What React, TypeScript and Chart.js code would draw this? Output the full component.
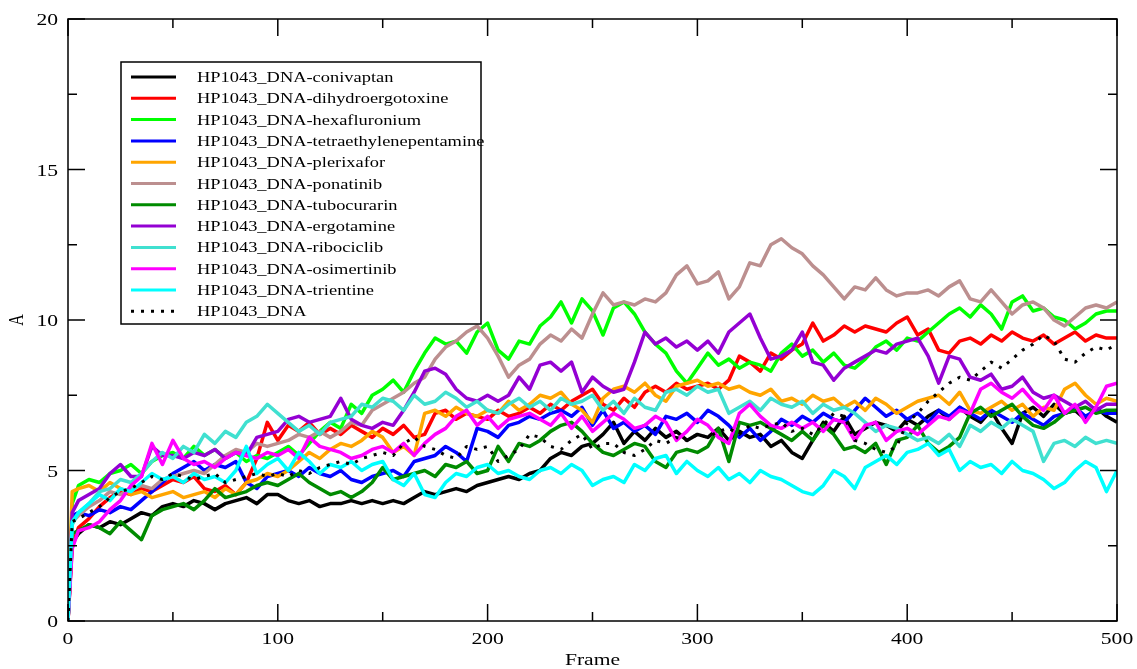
import React, { useEffect, useRef } from "react";
import { Chart, registerables } from "chart.js";

Chart.register(...registerables);

// ---------- data ----------
const frames = [
  0, 2, 5, 10, 15, 20, 25, 30, 35, 40, 45,
  50, 55, 60, 65, 70, 75, 80, 85, 90, 95,
  100, 105, 110, 115, 120, 125, 130, 135, 140, 145,
  150, 155, 160, 165, 170, 175, 180, 185, 190, 195,
  200, 205, 210, 215, 220, 225, 230, 235, 240, 245,
  250, 255, 260, 265, 270, 275, 280, 285, 290, 295,
  300, 305, 310, 315, 320, 325, 330, 335, 340, 345,
  350, 355, 360, 365, 370, 375, 380, 385, 390, 395,
  400, 405, 410, 415, 420, 425, 430, 435, 440, 445,
  450, 455, 460, 465, 470, 475, 480, 485, 490, 495,
  500,
];

const conivaptan = [
  0, 2.6, 2.9, 3.2, 3.1, 3.3, 3.2, 3.4, 3.6, 3.5, 3.8,
  3.9, 3.8, 4.0, 3.9, 3.7, 3.9, 4.0, 4.1, 3.9, 4.2,
  4.2, 4.0, 3.9, 4.0, 3.8, 3.9, 3.9, 4.0, 3.9, 4.0,
  3.9, 4.0, 3.9, 4.1, 4.3, 4.2, 4.3, 4.4, 4.3, 4.5,
  4.6, 4.7, 4.8, 4.7, 4.9, 5.0, 5.4, 5.6, 5.5, 5.8,
  5.9, 6.2, 6.6, 5.9, 6.3, 6.0, 6.4, 6.1, 6.3, 6.0,
  6.2, 6.1, 6.4, 6.0, 6.3, 6.1, 6.2, 5.8, 6.0, 5.6,
  5.4, 6.0, 6.6, 6.3, 6.8, 6.2, 6.4, 6.6, 6.5, 6.3,
  6.7, 6.5, 6.8, 7.0, 6.7, 7.1, 6.8, 6.6, 7.0, 6.4,
  5.9, 6.9, 7.1, 6.8, 7.2, 6.9, 7.0, 6.7, 7.1, 6.8,
  6.6,
];

const dihydroergotoxine = [
  0, 2.5, 3.1, 3.4, 3.8, 4.1, 4.3, 4.2, 4.4, 4.3, 4.5,
  4.7, 4.6, 4.8, 4.4, 4.3, 4.5, 4.2, 4.6, 5.4, 6.6,
  6.0, 6.5, 6.3, 6.6, 6.2, 6.4, 6.2, 6.5, 6.3, 6.1,
  6.4, 6.2, 6.5, 6.1, 6.2, 6.9, 7.0, 6.7, 6.9, 6.8,
  6.7, 7.0, 6.8, 6.9, 7.1, 6.9, 7.2, 7.0, 7.3, 7.5,
  7.7, 7.2, 7.0, 7.4, 7.1, 7.6, 7.8, 7.6, 7.9, 7.7,
  7.8, 7.9, 7.7, 8.0, 8.8, 8.6, 8.3, 8.9, 8.7, 9.0,
  9.2, 9.9, 9.3, 9.5, 9.8, 9.6, 9.8, 9.7, 9.6, 9.9,
  10.1, 9.5, 9.7, 9.0, 8.9, 9.3, 9.4, 9.2, 9.5, 9.3,
  9.6, 9.4, 9.3, 9.5, 9.2, 9.4, 9.6, 9.3, 9.5, 9.4,
  9.4,
];

const hexafluronium = [
  0, 3.9, 4.5, 4.7, 4.6, 4.9, 5.0, 5.2, 4.9, 5.3, 5.5,
  5.6, 5.4, 5.8, 5.5, 5.7, 5.4, 5.6, 5.3, 5.5, 5.4,
  5.6, 5.8, 5.5, 5.9, 6.3, 6.6, 6.4, 7.2, 6.9, 7.5,
  7.7, 8.0, 7.6, 8.3, 8.9, 9.4, 9.2, 9.3, 8.9, 9.6,
  9.9, 9.0, 8.7, 9.3, 9.2, 9.8, 10.1, 10.6, 9.9, 10.7,
  10.3, 9.5, 10.4, 10.6, 10.2, 9.6, 9.2, 8.9, 8.3, 7.9,
  8.4, 8.9, 8.5, 8.7, 8.4, 8.6, 8.5, 8.3, 8.9, 9.2,
  8.8, 9.0, 8.6, 8.9, 8.5, 8.4, 8.7, 9.1, 9.3, 9.0,
  9.4, 9.3, 9.6, 9.9, 10.2, 10.4, 10.1, 10.5, 10.2, 9.7,
  10.6, 10.8, 10.3, 10.4, 10.1, 10.0, 9.7, 9.9, 10.2, 10.3,
  10.3,
];

const tetraethylenepentamine = [
  0, 3.5, 3.6, 3.5, 3.7, 3.6, 3.8, 3.7, 4.0, 4.3, 4.6,
  4.9, 5.1, 5.3, 5.0, 5.2, 5.1, 5.3, 4.6, 4.4, 4.8,
  4.9, 5.0, 4.8, 5.1, 4.9, 4.8, 5.0, 4.7, 4.6, 4.8,
  4.9, 5.0, 4.8, 5.3, 5.4, 5.5, 5.8, 5.6, 5.3, 6.4,
  6.3, 6.1, 6.5, 6.6, 6.8, 6.7, 6.9, 7.0, 6.8, 7.1,
  6.5, 7.0, 6.4, 6.6, 6.3, 6.5, 6.2, 6.8, 6.7, 6.9,
  6.6, 7.0, 6.8, 6.5, 6.1, 6.4, 6.0, 6.3, 6.7, 6.5,
  6.8, 6.6, 6.9, 6.7, 6.6, 7.0, 7.4, 7.1, 6.8, 7.0,
  6.7, 6.9, 6.6, 7.0, 6.8, 7.1, 6.9, 6.7, 7.0, 6.8,
  6.6, 6.9, 6.7, 6.5, 6.8, 6.9, 7.1, 6.8, 7.0, 6.9,
  6.9,
];

const plerixafor = [
  0, 4.3, 4.4, 4.5, 4.3, 4.6, 4.4, 4.2, 4.3, 4.1, 4.2,
  4.3, 4.1, 4.2, 4.3, 4.1, 4.4, 4.2, 4.6, 4.7, 4.9,
  4.8, 5.0, 5.3, 5.6, 5.4, 5.7, 5.9, 5.8, 6.0, 6.3,
  6.1, 5.6, 5.8, 5.5, 6.9, 7.0, 6.8, 7.1, 6.9, 6.8,
  7.0, 6.9, 7.3, 7.0, 7.2, 7.5, 7.4, 7.6, 7.2, 7.0,
  6.6, 7.4, 7.7, 7.8, 7.6, 7.9, 7.5, 7.3, 7.8, 7.9,
  8.0, 7.8, 7.9, 7.7, 7.8, 7.6, 7.5, 7.7, 7.3, 7.4,
  7.2, 7.5, 7.3, 7.4, 7.1, 7.3, 7.0, 7.4, 7.2, 6.9,
  7.1, 7.3, 7.4, 7.5, 7.2, 7.6, 7.0, 6.9, 7.1, 7.3,
  7.0, 7.2, 6.8, 7.1, 7.0, 7.7, 7.9, 7.5, 7.2, 7.4,
  7.3,
];

const ponatinib = [
  0, 3.3, 3.5, 3.8, 4.0, 4.3, 4.2, 4.4, 4.5, 4.4, 4.7,
  4.8, 4.9, 5.0, 4.9, 5.2, 5.5, 5.7, 5.6, 5.9, 5.8,
  5.9, 6.0, 6.2, 6.1, 6.3, 6.1, 6.3, 6.6, 6.5, 7.0,
  7.2, 7.4, 7.6, 7.9, 8.1, 8.7, 9.1, 9.3, 9.6, 9.8,
  9.4, 8.8, 8.1, 8.5, 8.7, 9.2, 9.5, 9.3, 9.7, 9.4,
  10.2, 10.9, 10.5, 10.6, 10.5, 10.7, 10.6, 10.9, 11.5, 11.8,
  11.2, 11.3, 11.6, 10.7, 11.1, 11.9, 11.8, 12.5, 12.7, 12.4,
  12.2, 11.8, 11.5, 11.1, 10.7, 11.1, 11.0, 11.4, 11.0, 10.8,
  10.9, 10.9, 11.0, 10.8, 11.1, 11.3, 10.7, 10.6, 11.0, 10.6,
  10.2, 10.5, 10.6, 10.4, 10.0, 9.8, 10.1, 10.4, 10.5, 10.4,
  10.6,
];

const tubocurarin = [
  0, 2.9, 3.0, 3.2, 3.1, 2.9, 3.3, 3.0, 2.7, 3.5, 3.7,
  3.8, 3.9, 3.7, 4.0, 4.4, 4.1, 4.2, 4.3, 4.5, 4.6,
  4.5, 4.7, 4.9, 4.6, 4.4, 4.2, 4.3, 4.1, 4.3, 4.6,
  5.1, 4.7, 4.8, 4.9, 5.0, 4.8, 5.2, 5.1, 5.3, 4.9,
  5.0, 5.8, 5.3, 5.9, 5.8, 6.0, 6.3, 6.5, 6.6, 6.3,
  5.9, 5.6, 5.5, 5.7, 5.9, 5.8, 5.3, 5.1, 5.6, 5.7,
  5.6, 5.8, 6.4, 5.3, 6.6, 6.5, 6.6, 6.4, 6.2, 6.0,
  6.3, 6.0, 6.5, 6.2, 5.7, 5.8, 5.6, 5.9, 5.2, 6.0,
  6.1, 6.5, 5.9, 5.6, 5.8, 6.1, 6.9, 7.1, 6.8, 7.0,
  7.2, 6.8, 6.5, 6.4, 6.6, 6.9, 7.0, 7.1, 6.9, 7.0,
  7.0,
];

const ergotamine = [
  0, 3.6, 4.0, 4.2, 4.4, 4.9, 5.2, 4.8, 4.8, 5.8, 5.5,
  5.5, 5.4, 5.6, 5.5, 5.7, 5.4, 5.6, 5.5, 6.1, 6.2,
  6.3, 6.7, 6.8, 6.6, 6.7, 6.8, 7.4, 6.7, 6.5, 6.4,
  6.6, 6.5, 7.0, 7.6, 8.3, 8.4, 8.2, 7.7, 7.4, 7.3,
  7.5, 7.3, 7.5, 8.1, 7.7, 8.5, 8.6, 8.3, 8.6, 7.6,
  8.1, 7.8, 7.6, 7.7, 8.6, 9.6, 9.2, 9.4, 9.1, 9.3,
  9.0, 9.3, 8.9, 9.6, 9.9, 10.2, 9.4, 8.7, 8.8, 9.0,
  9.6, 8.6, 8.5, 8.0, 8.4, 8.6, 8.8, 9.0, 8.9, 9.2,
  9.3, 9.4, 8.8, 7.9, 8.8, 8.7, 8.1, 8.0, 8.2, 7.7,
  7.8, 8.1, 7.6, 7.4, 7.5, 7.3, 7.1, 7.3, 7.0, 7.2,
  7.2,
];

const ribociclib = [
  0, 3.2, 3.6, 3.9, 4.3, 4.4, 4.7, 4.6, 4.9, 5.3, 5.6,
  5.4, 5.8, 5.6, 6.2, 5.9, 6.3, 6.1, 6.6, 6.8, 7.2,
  6.9, 6.6, 6.3, 6.5, 6.2, 6.6, 6.7, 6.8, 7.2, 7.1,
  7.4, 7.3, 7.0, 7.5, 7.2, 7.3, 7.6, 7.4, 7.1, 7.3,
  7.0, 6.9, 7.2, 7.4, 7.1, 7.3, 7.0, 7.4, 7.2, 7.3,
  7.5, 7.0, 7.3, 6.9, 7.4, 7.1, 7.0, 7.6, 7.7, 7.5,
  7.8, 7.6, 7.7, 6.9, 7.1, 7.3, 7.0, 7.4, 7.2, 7.1,
  7.3, 6.9, 7.2, 7.0, 7.1, 6.9, 6.6, 6.3, 6.5, 6.4,
  6.2, 6.0, 6.1, 5.9, 6.2, 5.8, 6.5, 6.3, 6.6, 6.4,
  6.7, 6.5, 6.3, 5.3, 5.9, 6.0, 5.8, 6.1, 5.9, 6.0,
  5.9,
];

const osimertinib = [
  0, 2.4, 3.0, 3.1, 3.3, 3.7, 4.0, 4.5, 4.8, 5.9, 5.2,
  6.0, 5.4, 5.2, 5.3, 5.1, 5.4, 5.6, 5.5, 5.4, 5.6,
  5.5, 5.7, 5.4, 6.1, 5.8, 5.7, 5.6, 5.4, 5.5, 5.7,
  5.8, 5.6, 5.9, 5.5, 5.9, 6.2, 6.4, 6.8, 7.0, 6.5,
  6.8, 6.4, 6.7, 6.8, 6.9, 6.7, 6.5, 6.9, 6.4, 6.8,
  6.3, 6.6, 6.9, 6.7, 6.4, 6.5, 6.8, 6.6, 6.0, 6.3,
  6.7, 6.5, 6.1, 5.9, 6.9, 7.2, 6.8, 6.5, 6.4, 6.6,
  6.4, 6.6, 6.3, 6.7, 6.6, 6.0, 6.5, 6.6, 6.0, 6.3,
  6.4, 6.2, 6.5, 6.8, 6.7, 7.0, 6.9, 7.7, 7.9, 7.6,
  7.4, 7.7, 7.3, 7.0, 7.5, 6.9, 7.2, 6.6, 7.1, 7.8,
  7.9,
];

const trientine = [
  0, 3.3, 3.6, 3.9, 4.2, 4.0, 4.4, 4.3, 4.6, 4.9, 4.7,
  4.8, 4.6, 4.9, 4.7, 4.8, 4.6, 5.0, 5.8, 4.9, 5.2,
  5.4, 5.0, 5.6, 5.3, 4.9, 5.2, 5.1, 5.3, 5.0, 5.2,
  5.3, 4.7, 4.5, 4.9, 4.2, 4.1, 4.6, 4.9, 4.8, 5.1,
  5.2, 4.9, 5.0, 4.8, 4.7, 5.0, 5.1, 4.9, 5.2, 5.0,
  4.5, 4.7, 4.8, 4.6, 5.2, 5.0, 5.4, 5.5, 4.9, 5.3,
  5.0, 4.8, 5.1, 4.7, 4.9, 4.6, 5.0, 4.8, 4.7, 4.5,
  4.3, 4.2, 4.5, 5.0, 4.8, 4.4, 5.1, 5.3, 5.5, 5.2,
  5.6, 5.7, 5.9, 5.5, 5.7, 5.0, 5.3, 5.1, 5.2, 4.9,
  5.3, 5.0, 4.9, 4.7, 4.4, 4.6, 5.0, 5.3, 5.1, 4.3,
  5.0,
];

const dnaOnly = [
  0, 3.3, 3.4, 3.6, 3.8, 4.1, 4.3, 4.4, 4.6, 4.8, 4.7,
  4.9, 4.8, 4.7, 4.8, 4.9, 4.6, 4.7, 4.8, 4.9, 4.8,
  4.9, 4.8, 5.0, 4.9, 5.1, 5.2, 5.3, 5.2, 5.4, 5.5,
  5.6, 5.5, 5.9, 6.1, 5.8, 5.7, 5.5, 5.4, 5.8, 5.7,
  5.8, 5.3, 5.5, 5.7, 6.2, 6.1, 5.8, 5.7, 6.0, 6.2,
  5.7, 5.9, 5.9, 5.6, 5.5, 5.7, 6.0, 5.9, 6.1, 6.0,
  6.2, 6.1, 6.3, 6.4, 6.2, 6.5, 6.4, 6.5, 6.6, 6.3,
  6.4, 6.2, 6.5, 6.9, 6.8, 6.0, 5.9, 5.7, 5.6, 5.8,
  6.6, 6.9, 7.3, 7.6, 7.9, 8.1, 8.0, 8.3, 8.6, 8.4,
  8.7, 9.0, 9.2, 9.5, 9.3, 8.7, 8.6, 8.9, 9.1, 9.0,
  9.2,
];

const seriesNames = [
  "HP1043_DNA-conivaptan",
  "HP1043_DNA-dihydroergotoxine",
  "HP1043_DNA-hexafluronium",
  "HP1043_DNA-tetraethylenepentamine",
  "HP1043_DNA-plerixafor",
  "HP1043_DNA-ponatinib",
  "HP1043_DNA-tubocurarin",
  "HP1043_DNA-ergotamine",
  "HP1043_DNA-ribociclib",
  "HP1043_DNA-osimertinib",
  "HP1043_DNA-trientine",
  "HP1043_DNA",
];

const seriesValues = [
  conivaptan,
  dihydroergotoxine,
  hexafluronium,
  tetraethylenepentamine,
  plerixafor,
  ponatinib,
  tubocurarin,
  ergotamine,
  ribociclib,
  osimertinib,
  trientine,
  dnaOnly,
];

const seriesColors = [
  "#000000",
  "#ff0000",
  "#00ff00",
  "#0000ff",
  "#ffa500",
  "#bc8f8f",
  "#008b00",
  "#9400d3",
  "#40e0d0",
  "#ff00ff",
  "#00ffff",
  "#000000",
];

const xMajorTicks = [0, 100, 200, 300, 400, 500];
const xMinorTicks = [50, 150, 250, 350, 450];
const yMajorTicks = [0, 5, 10, 15, 20];
const yMinorTicks = [2.5, 7.5, 12.5, 17.5];
const xTitle = "Frame";
const yTitle = "A";

// ---------- drawing helpers ----------
const FONT = '"Liberation Serif", "Times New Roman", serif';
const STRETCH = 1.27;
const DOT_DASH = [3, 7];

function stretchedText(ctx: CanvasRenderingContext2D, text: string, x: number, y: number) {
  ctx.save();
  ctx.translate(x, y);
  ctx.scale(STRETCH, 1);
  ctx.fillText(text, 0, 0);
  ctx.restore();
}

const gracePlugin = {
  id: "graceFrame",
  afterDatasetsDraw(chart: any) {
    const ctx: CanvasRenderingContext2D = chart.ctx;
    const { left, right, top, bottom } = chart.chartArea;
    const xs = chart.scales.x;
    const ys = chart.scales.y;
    ctx.save();
    ctx.strokeStyle = "#000";
    ctx.fillStyle = "#000";
    ctx.lineWidth = 1.5;
    ctx.strokeRect(left, top, right - left, bottom - top);

    ctx.beginPath();
    const MAJ = 17;
    const MIN = 9;
    xMajorTicks.forEach((v) => {
      const px = xs.getPixelForValue(v);
      ctx.moveTo(px, bottom); ctx.lineTo(px, bottom - MAJ);
      ctx.moveTo(px, top); ctx.lineTo(px, top + MAJ);
    });
    xMinorTicks.forEach((v) => {
      const px = xs.getPixelForValue(v);
      ctx.moveTo(px, bottom); ctx.lineTo(px, bottom - MIN);
      ctx.moveTo(px, top); ctx.lineTo(px, top + MIN);
    });
    yMajorTicks.forEach((v) => {
      const py = ys.getPixelForValue(v);
      ctx.moveTo(left, py); ctx.lineTo(left + MAJ, py);
      ctx.moveTo(right, py); ctx.lineTo(right - MAJ, py);
    });
    yMinorTicks.forEach((v) => {
      const py = ys.getPixelForValue(v);
      ctx.moveTo(left, py); ctx.lineTo(left + MIN, py);
      ctx.moveTo(right, py); ctx.lineTo(right - MIN, py);
    });
    ctx.stroke();

    // tick labels
    ctx.font = `17px ${FONT}`;
    ctx.textBaseline = "alphabetic";
    ctx.textAlign = "center";
    xMajorTicks.forEach((v) => {
      stretchedText(ctx, String(v), xs.getPixelForValue(v), bottom + 23);
    });
    ctx.textAlign = "right";
    yMajorTicks.forEach((v) => {
      stretchedText(ctx, String(v), left - 10, ys.getPixelForValue(v) + 6);
    });

    // axis titles
    ctx.textAlign = "center";
    ctx.font = `17px ${FONT}`;
    stretchedText(ctx, xTitle, (left + right) / 2, bottom + 44);
    ctx.save();
    ctx.translate(18, (top + bottom) / 2);
    ctx.scale(STRETCH, 1);
    ctx.rotate(-Math.PI / 2);
    ctx.textBaseline = "middle";
    ctx.font = `16px ${FONT}`;
    ctx.fillText(yTitle, 0, 0);
    ctx.restore();

    // legend
    const bx = 121, by = 62, bw = 360, bh = 262;
    ctx.fillStyle = "#fff";
    ctx.fillRect(bx, by, bw, bh);
    ctx.lineWidth = 1.5;
    ctx.strokeStyle = "#000";
    ctx.strokeRect(bx, by, bw, bh);
    chart.data.datasets.forEach((ds: any, i: number) => {
      const y = 77 + i * 21.3;
      ctx.save();
      ctx.strokeStyle = ds.borderColor;
      ctx.lineWidth = 3;
      ctx.setLineDash(ds.borderDash || []);
      ctx.beginPath();
      ctx.moveTo(131, y);
      ctx.lineTo(176, y);
      ctx.stroke();
      ctx.restore();
      ctx.fillStyle = "#000";
      ctx.font = `14.5px ${FONT}`;
      ctx.textAlign = "left";
      ctx.textBaseline = "alphabetic";
      stretchedText(ctx, ds.label, 197, y + 5);
    });
    ctx.restore();
  },
};

export default function App() {
  const canvasRef = useRef<HTMLCanvasElement | null>(null);

  useEffect(() => {
    if (!canvasRef.current) return;
    const n = seriesValues.length;
    const datasets = seriesValues.map((vals, i) => ({
      label: seriesNames[i],
      data: vals.map((v, k) => ({ x: frames[k], y: v })),
      borderColor: seriesColors[i],
      backgroundColor: seriesColors[i],
      borderWidth: i === n - 1 ? 3 : 3.5,
      borderDash: i === n - 1 ? DOT_DASH : undefined,
      borderCapStyle: "butt",
      borderJoinStyle: "round",
      pointRadius: 0,
      tension: 0,
      fill: false,
      order: n - i,
    }));
    const chart = new Chart(canvasRef.current, {
      type: "line",
      data: { datasets },
      options: {
        animation: false,
        responsive: false,
        devicePixelRatio: 1,
        parsing: false as any,
        layout: { padding: { top: 19, right: 20, left: 0, bottom: 0 } },
        plugins: { legend: { display: false }, tooltip: { enabled: false } },
        scales: {
          x: {
            type: "linear",
            min: 0,
            max: 500,
            grid: { display: false, drawTicks: false },
            border: { display: false },
            ticks: { display: false },
            afterFit: (s: any) => { s.height = 48; },
          },
          y: {
            type: "linear",
            min: 0,
            max: 20,
            grid: { display: false, drawTicks: false },
            border: { display: false },
            ticks: { display: false },
            afterFit: (s: any) => { s.width = 68; },
          },
        },
      } as any,
      plugins: [gracePlugin],
    });
    return () => chart.destroy();
  }, []);

  return (
    <div style={{ position: "fixed", left: 0, top: 0, width: 1137, height: 669, background: "#fff" }}>
      <canvas ref={canvasRef} width={1137} height={669} style={{ width: 1137, height: 669 }} />
    </div>
  );
}
